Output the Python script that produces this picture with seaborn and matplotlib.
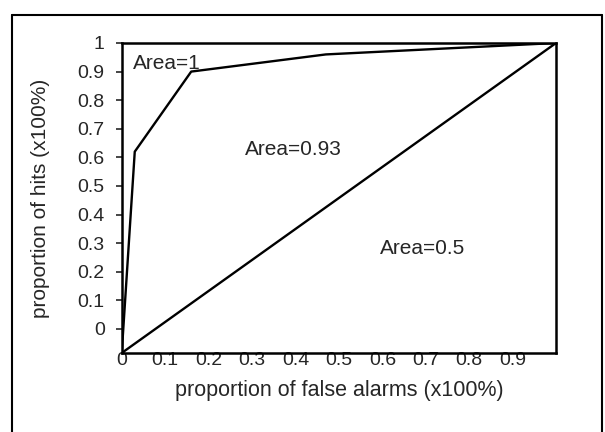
import matplotlib
matplotlib.use("Agg")
import matplotlib.pyplot as plt
from matplotlib.lines import Line2D
import seaborn as sns

# data
false_alarms = [0.0, 0.03, 0.16, 0.47, 1.0]
hits = [-0.084, 0.62, 0.90, 0.96, 1.0]
chance_x = [0.0, 1.0]
chance_y = [-0.084, 1.0]
x_ticks = [0, 0.1, 0.2, 0.3, 0.4, 0.5, 0.6, 0.7, 0.8, 0.9, 1.0]
x_tick_labels = ["0", "0.1", "0.2", "0.3", "0.4", "0.5", "0.6", "0.7", "0.8", "0.9", ""]
y_ticks = [0, 0.1, 0.2, 0.3, 0.4, 0.5, 0.6, 0.7, 0.8, 0.9, 1.0]
y_tick_labels = ["0", "0.1", "0.2", "0.3", "0.4", "0.5", "0.6", "0.7", "0.8", "0.9", "1"]
area_labels = ["Area=1", "Area=0.93", "Area=0.5"]
area_x = [0.026, 0.284, 0.595]
area_y = [0.93, 0.626, 0.28]

sns.set_style("ticks")
plt.rcParams["font.family"] = ["Liberation Sans", "DejaVu Sans"]

fig = plt.figure(figsize=(6.05, 4.32), dpi=100)
ax = fig.add_axes([0.2012, 0.1829, 0.7179, 0.7176])

sns.lineplot(x=false_alarms, y=hits, color="black", linewidth=1.7, ax=ax, sort=False)
sns.lineplot(x=chance_x, y=chance_y, color="black", linewidth=1.7, ax=ax)

for lab, xx, yy in zip(area_labels, area_x, area_y):
    ax.text(xx, yy, lab, fontsize=15, ha="left", va="center")

ax.set_xlim(0, 1)
ax.set_ylim(-0.084, 1)
ax.set_xticks(x_ticks)
ax.set_xticklabels(x_tick_labels, fontsize=14)
ax.set_yticks(y_ticks)
ax.set_yticklabels(y_tick_labels, fontsize=14)
ax.tick_params(axis="x", direction="out", length=0, pad=-1)
ax.tick_params(axis="y", direction="out", length=4.3, width=1.2, pad=8)

for s in ax.spines.values():
    s.set_visible(True)
    s.set_linewidth(1.8)
    s.set_color("black")

ax.set_xlabel("proportion of false alarms (x100%)", fontsize=15.5)
ax.set_ylabel("proportion of hits (x100%)", fontsize=15)
ax.xaxis.label.set_va("center")
ax.yaxis.label.set_va("center")
ax.xaxis.set_label_coords(0.5, -0.1226)
ax.yaxis.set_label_coords(-0.186, 0.5)

# outer frame of the scanned page
fl, ft, fr = 11.7 / 605, 1 - 14.7 / 432, 602 / 605
fig.add_artist(Line2D([fl, fl], [0, ft], color="black", linewidth=1.5, transform=fig.transFigure))
fig.add_artist(Line2D([fl, fr], [ft, ft], color="black", linewidth=1.5, transform=fig.transFigure))
fig.add_artist(Line2D([fr, fr], [0, ft], color="black", linewidth=1.5, transform=fig.transFigure))

fig.savefig("out.png", dpi=100)
